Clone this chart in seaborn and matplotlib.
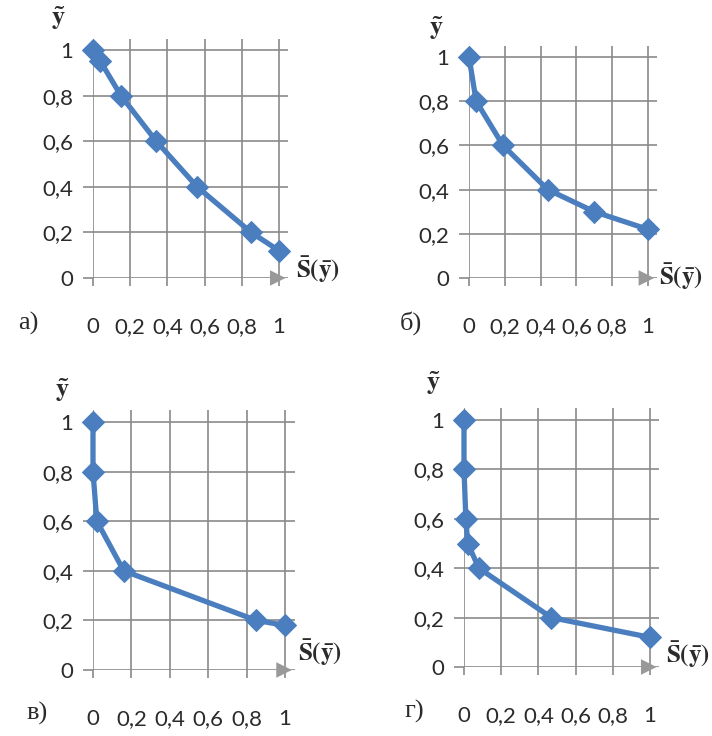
import matplotlib
matplotlib.use('Agg')
import matplotlib.pyplot as plt
import seaborn as sns
import pandas as pd

# Panel data (S(y) on x, y on the vertical axis)
a_s = [0.0, 0.04, 0.15, 0.34, 0.56, 0.85, 1.0]
a_y = [1.0, 0.95, 0.8, 0.6, 0.4, 0.2, 0.12]

b_s = [0.0, 0.04, 0.19, 0.44, 0.70, 1.0]
b_y = [1.0, 0.8, 0.6, 0.4, 0.3, 0.22]

v_s = [0.0, 0.0, 0.02, 0.16, 0.85, 1.0]
v_y = [1.0, 0.8, 0.6, 0.4, 0.2, 0.18]

g_s = [0.0, 0.0, 0.01, 0.02, 0.08, 0.47, 1.0]
g_y = [1.0, 0.8, 0.6, 0.5, 0.4, 0.2, 0.12]

panel_letters = ['а)', 'б)', 'в)', 'г)']
tick_values = [0, 0.2, 0.4, 0.6, 0.8, 1]
tick_labels = ['0', '0,2', '0,4', '0,6', '0,8', '1']

sns.set_style('white')
plt.rcParams['font.family'] = ['Lato', 'DejaVu Sans']
plt.rcParams['mathtext.fontset'] = 'stix'

W, H = 712, 736
fig = plt.figure(figsize=(W / 100, H / 100), dpi=100)

# (x0 px, x1 px, y1 px, y0 px) for data 0/1 positions of each panel
frames = [(93, 279, 50, 278), (469, 648, 57, 278), (93, 285, 422, 670), (464, 650, 420, 667)]
series = [(a_s, a_y), (b_s, b_y), (v_s, v_y), (g_s, g_y)]
letter_pos = [(28, 323), (411, 323), (37, 713), (414, 711)]
ylab_pos = [(58, 18), (436, 28), (62, 390), (433, 383)]
xlab_pos = [(318, 270), (681, 277), (320, 653), (688, 655)]

grid_col = '#8a8a8a'
line_col = '#4a7ebe'
text_col = '#2b2b2b'

for (x0, x1, y1, y0), (s, y), letter, lp, yp, xp in zip(frames, series, panel_letters,
                                                       letter_pos, ylab_pos, xlab_pos):
    ux = x1 - x0
    uy = y0 - y1
    ax = fig.add_axes([x0 / W, (H - y0) / H, 1.05 * ux / W, 1.05 * uy / H])
    df = pd.DataFrame({'s': s, 'y': y})
    sns.lineplot(data=df, x='s', y='y', sort=False, estimator=None, ax=ax,
                 color=line_col, linewidth=3.8, marker='D', markersize=11,
                 markeredgecolor=line_col, clip_on=False, zorder=5)
    ax.set_xlim(0, 1.05)
    ax.set_ylim(0, 1.05)
    ax.set_xticks(tick_values)
    ax.set_xticklabels(tick_labels)
    ax.set_yticks(tick_values)
    ax.set_yticklabels(tick_labels)
    ax.grid(True, color=grid_col, linewidth=1.2)
    ax.set_axisbelow(True)
    for sp in ax.spines.values():
        sp.set_visible(False)
    ax.tick_params(axis='both', direction='out', colors=grid_col, width=1.2,
                   labelcolor=text_col, labelsize=16)
    ax.tick_params(axis='x', length=6, pad=22, bottom=True)
    ax.tick_params(axis='y', length=7, pad=7, left=True)
    ax.set_xlabel('')
    ax.set_ylabel('')
    ax.annotate('', xy=(1.05, 0), xytext=(0.98, 0),
                arrowprops=dict(arrowstyle='-|>,head_length=0.8,head_width=0.4',
                                color='#999999', lw=0, mutation_scale=14),
                annotation_clip=False)

    fig.text(lp[0] / W, 1 - lp[1] / H, letter, fontsize=19, color=text_col,
             family=['Liberation Serif'], ha='center', va='center')
    fig.text(yp[0] / W, 1 - yp[1] / H, r'$\mathbf{\tilde{y}}$', fontsize=19,
             color=text_col, ha='center', va='center')
    fig.text(xp[0] / W, 1 - xp[1] / H, r'$\mathbf{\bar{S}(\bar{y})}$', fontsize=18,
             color=text_col, ha='center', va='center')

fig.savefig('out.png', dpi=100)
